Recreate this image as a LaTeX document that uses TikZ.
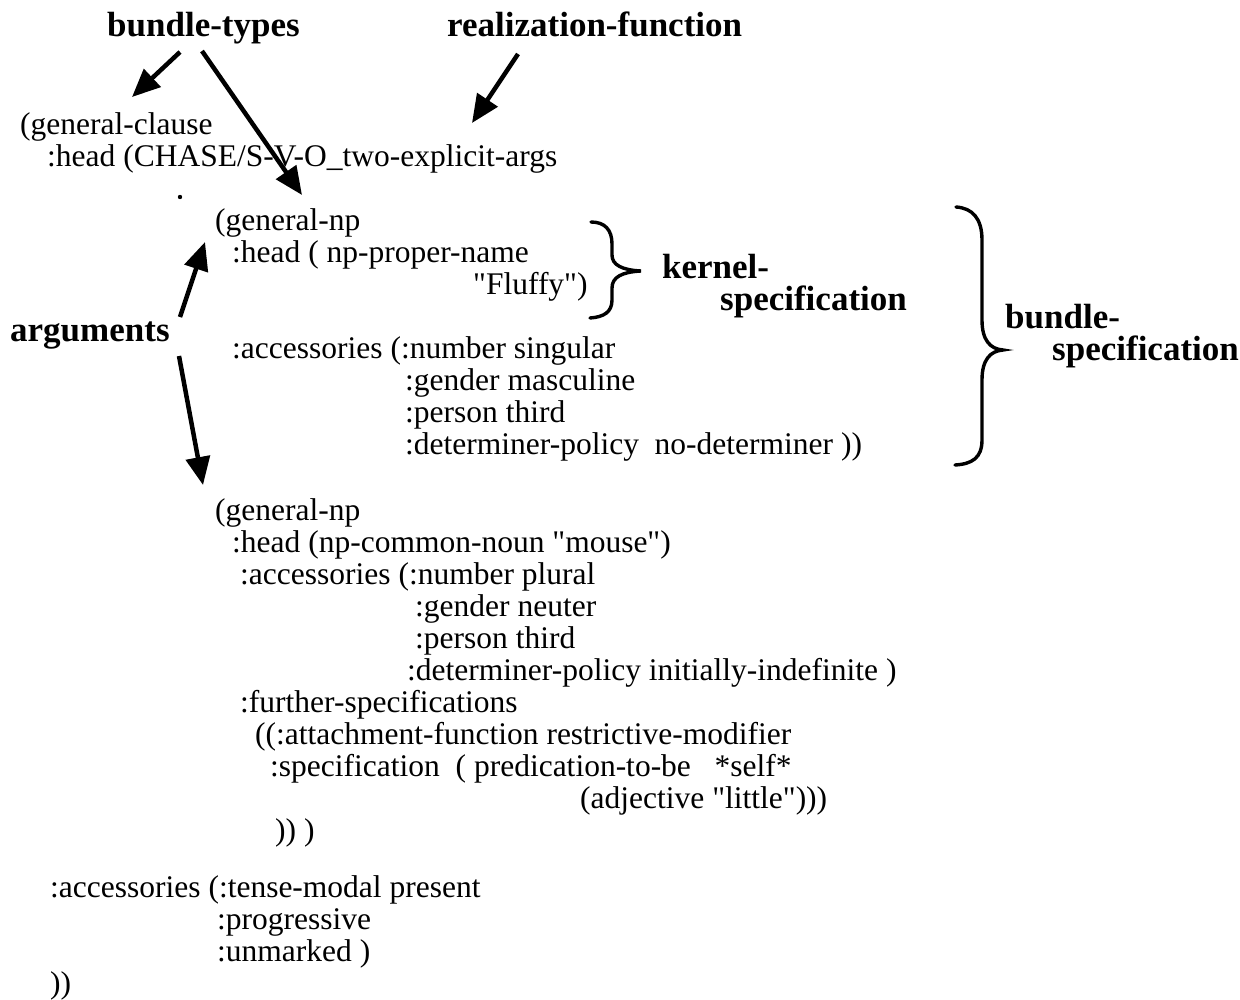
\documentclass[tikz,border=0pt]{standalone}
\usepackage{fontspec}
\setmainfont{Liberation Serif}
\newfontfamily\codefamily{Liberation Serif}[Ligatures=NoCommon]
\usetikzlibrary{arrows.meta}
\newcommand{\codefnt}{\codefamily\fontsize{31.5}{32}\selectfont}
\newcommand{\lblfnt}{\fontsize{35}{36}\selectfont\bfseries}
\begin{document}
\begin{tikzpicture}[x=1pt,y=-1pt,
  code/.style={anchor=base west, inner sep=0pt, font=\codefnt},
  lbl/.style={anchor=base west, inner sep=0pt, font=\lblfnt},
  arr/.style={line width=4.5pt, -{Triangle[length=28pt,width=24pt]}},
  brc/.style={line width=3.4pt, line cap=round}]
\fill[white] (0,0) rectangle (1240,999);
\useasboundingbox (0,0) rectangle (1240,999);

% labels
\node[lbl] (bt) at (107,36) {bundle-types};
\node[lbl] (rf) at (447,36) {realization-function};
\node[lbl] (args) at (10,341) {arguments};
\node[lbl] (k1) at (662,278) {kernel-};
\node[lbl] (k2) at (720,310) {specification};
\node[lbl] (b1) at (1005,328) {bundle-};
\node[lbl] (b2) at (1052,360) {specification};

% clause
\node[code] (gc) at (20,134) {(general-clause};
\node[code] (gch) at (47,166) {:head (CHASE/S-V-O\_two-explicit-args};
\fill (180,197) circle (2.2pt);

% first np
\node[code] (np1) at (215,230) {(general-np};
\node[code] (np1h) at (232,262) {:head ( np-proper-name};
\node[code] (np1f) at (473,294) {"Fluffy")};
\node[code] (np1a) at (232,358) {:accessories (:number singular};
\node[code] (np1g) at (405,390) {:gender masculine};
\node[code] (np1p) at (405,422) {:person third};
\node[code] (np1d) at (405,454) {:determiner-policy\ \ no-determiner ))};

% second np
\node[code] (np2) at (215,520) {(general-np};
\node[code] (np2h) at (232,552) {:head (np-common-noun "mouse")};
\node[code] (np2a) at (240,584) {:accessories (:number plural};
\node[code] (np2g) at (415,616) {:gender neuter};
\node[code] (np2p) at (415,648) {:person third};
\node[code] (np2d) at (407,680) {:determiner-policy initially-indefinite )};
\node[code] (np2f) at (240,712) {:further-specifications};
\node[code] (np2t) at (255,744) {((:attachment-function restrictive-modifier};
\node[code] (np2s) at (270,776) {:specification\ \ ( predication-to-be\ \ \ *self*};
\node[code] (np2j) at (580,808) {(adjective "little")))};
\node[code] (np2c) at (275,840) {)) )};

% clause accessories
\node[code] (ca) at (50,897) {:accessories (:tense-modal present};
\node[code] (cp) at (217,929) {:progressive};
\node[code] (cu) at (217,961) {:unmarked )};
\node[code] (ce) at (50,993) {))};

% arrow end points
\coordinate (a1s) at (180,52);
\coordinate (a1e) at (132,97);
\coordinate (a2s) at (202,51);
\coordinate (a2e) at (302,195);
\coordinate (a3s) at (518,54);
\coordinate (a3e) at (472,123);
\coordinate (a4s) at (180,317);
\coordinate (a4e) at (205,242);
\coordinate (a5s) at (179,356);
\coordinate (a5e) at (203,485);

\draw[arr] (a1s) -- (a1e);
\draw[arr] (a2s) -- (a2e);
\draw[arr] (a3s) -- (a3e);
\draw[arr] (a4s) -- (a4e);
\draw[arr] (a5s) -- (a5e);

% kernel brace
\draw[brc] (591,222) .. controls (605,222) and (612,230) .. (612,244)
  -- (612,255) .. controls (612,265) and (622,270) .. (641,271)
  .. controls (622,272) and (612,277) .. (612,288)
  -- (612,300) .. controls (612,312) and (604,317) .. (590,318);

% bundle brace
\draw[brc] (956,207) .. controls (972,208) and (982,218) .. (982,240)
  -- (982,320) .. controls (982,340) and (990,349) .. (1003,350)
  .. controls (990,351) and (982,360) .. (982,380)
  -- (982,440) .. controls (982,458) and (972,464) .. (955,465);
\end{tikzpicture}
\end{document}
